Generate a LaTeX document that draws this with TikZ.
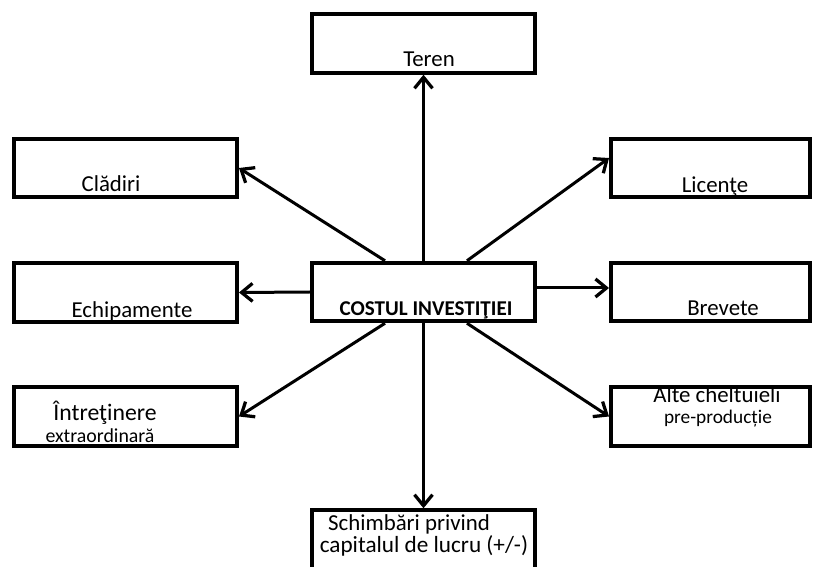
\documentclass[tikz,border=0pt]{standalone}
\usepackage{fontspec}
\setmainfont{Carlito}
\usetikzlibrary{arrows.meta}
\tikzset{
  box/.style={draw, line width=0.08cm, minimum width=4.46cm, minimum height=1.17cm, inner sep=0pt},
  rbox/.style={box, minimum width=3.98cm},
  lbl/.style={anchor=base, inner sep=0pt, font=\fontsize{13}{15}\selectfont},
  small/.style={anchor=base, inner sep=0pt, font=\fontsize{11}{13}\selectfont},
  link/.style={line width=0.06cm, -{Straight Barb[length=0.22cm,width=0.36cm,line width=0.065cm]}}
}
\begin{document}
\begin{tikzpicture}[x=0.02cm,y=-0.02cm]
      \clip (0,0) rectangle (825,567);
      \node[box] (teren) at (423.5,43.5) {};
      \node[box] (cladiri) at (125.5,168) {};
      \node[rbox] (licente) at (710.5,168) {};
      \node[box] (echip) at (125.5,292.5) {};
      \node[box] (cost) at (423.5,292) {};
      \node[rbox] (brevete) at (710.5,292) {};
      \node[box] (intret) at (125.5,416.5) {};
      \node[rbox] (alte) at (710.5,416.5) {};
      \node[box] (schimb) at (423.5,539.5) {};
      % texts
      \node[lbl] (t-teren) at (429,67) {Teren};
      \node[lbl] (t-cladiri) at (111,192) {Clădiri};
      \node[lbl] (t-licente) at (715,193) {Licenţe};
      \node[lbl] (t-echip) at (132,318) {Echipamente};
      \node[lbl, font=\bfseries\fontsize{12}{14}\selectfont] (t-cost) at (426,316) {COSTUL INVESTIŢIEI};
      \node[lbl] (t-brevete) at (723,316) {Brevete};
      \node[lbl, font=\fontsize{13.5}{15}\selectfont] (t-intret1) at (105,420) {Întreţinere};
      \node[small, font=\fontsize{11.3}{13}\selectfont] (t-intret2) at (100,442) {extraordinară};
      \node[lbl] (t-alte1) at (717,403) {Alte cheltuieli};
      \node[small] (t-alte2) at (718,423) {pre-producție};
      \node[lbl] (t-schimb1) at (409,530) {Schimbări privind};
      \node[lbl, font=\fontsize{13.2}{15}\selectfont] (t-schimb2) at (424,552) {capitalul de lucru (+/-)};
      \begin{scope}[link]
        \draw (cost.north) to (teren.south);
        \draw ([xshift=-0.77cm]cost.north) to (cladiri.east);
        \draw ([xshift=0.87cm]cost.north) to ([yshift=0.2cm]licente.west);
        \draw (cost.west) to (echip.east);
        \draw ([yshift=0.08cm]cost.east) to ([yshift=0.08cm]brevete.west);
        \draw ([xshift=-0.77cm]cost.south) to (intret.east);
        \draw ([xshift=0.87cm]cost.south) to (alte.west);
        \draw (cost.south) to (schimb.north);
      \end{scope}
    \end{tikzpicture}
\end{document}
